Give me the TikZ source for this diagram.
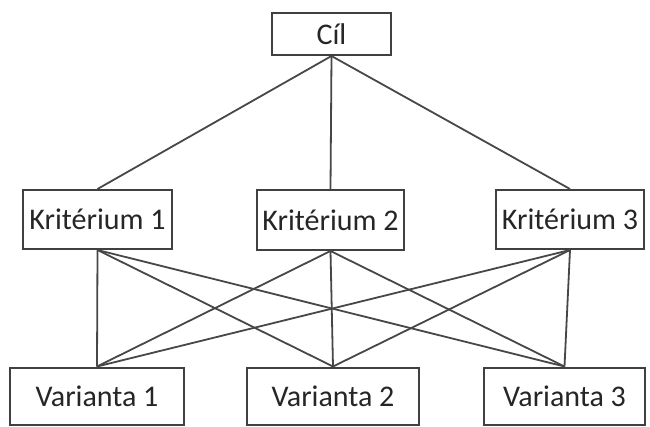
\documentclass[tikz,border=0pt]{standalone}
\usepackage{fontspec}
\setmainfont{Carlito}
\begin{document}
\begin{tikzpicture}[x=1pt,y=-1pt,
  box/.style={draw=black!75, line width=2pt, fill=white, inner sep=0pt, text=black!85, font=\fontsize{30}{32}\selectfont},
  link/.style={draw=black!72, line width=1.8pt}]
\useasboundingbox (0,0) rectangle (650,426);
\node[box, minimum width=119pt, minimum height=42pt] (c) at (331.5,34) {Cíl};
\node[box, minimum width=149pt, minimum height=59pt] (k1) at (97.5,219.5) {Kritérium 1};
\node[box, minimum width=147pt, minimum height=60pt] (k2) at (330.5,220) {Kritérium 2};
\node[box, minimum width=148pt, minimum height=59pt] (k3) at (570,219.5) {Kritérium 3};
\node[box, minimum width=174pt, minimum height=57pt] (v1) at (97,396) {Varianta 1};
\node[box, minimum width=172pt, minimum height=57pt] (v2) at (333,396) {Varianta 2};
\node[box, minimum width=161pt, minimum height=57pt] (v3) at (564.5,396) {Varianta 3};
\foreach \k in {k1,k2,k3} {
  \draw[link] (c.south) -- (\k.north);
  \foreach \v in {v1,v2,v3} {
    \draw[link] (\k.south) -- (\v.north);
  }
}
\end{tikzpicture}
\end{document}
